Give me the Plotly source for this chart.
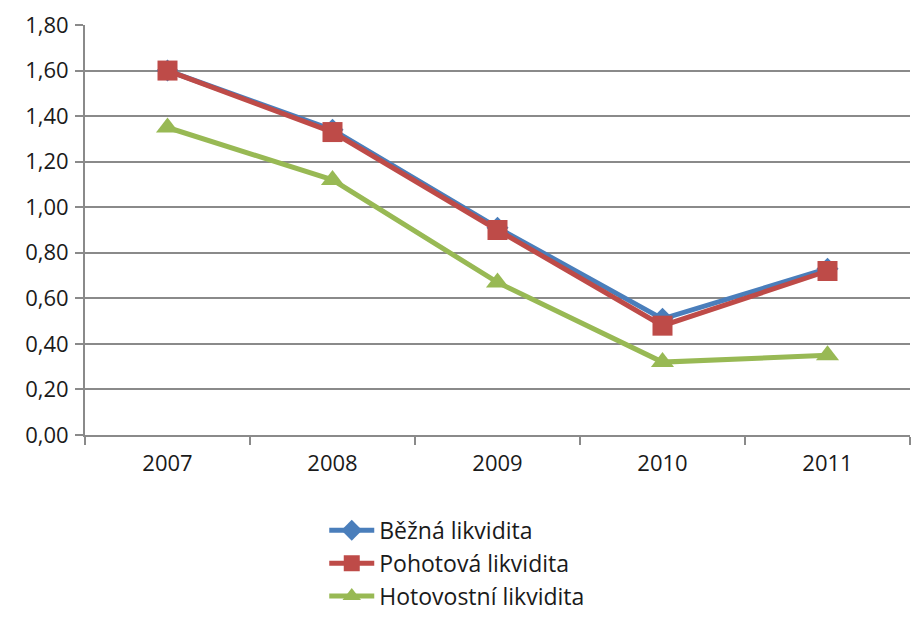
import plotly.graph_objects as go

years = ["2007", "2008", "2009", "2010", "2011"]
bezna = [1.60, 1.34, 0.91, 0.51, 0.73]
pohotova = [1.60, 1.33, 0.90, 0.48, 0.72]
hotovostni = [1.35, 1.12, 0.67, 0.32, 0.35]

fig = go.Figure()
fig.add_trace(go.Scatter(x=years, y=bezna, name="Běžná likvidita", mode="lines+markers",
                         line=dict(color="#4A7EBB", width=5),
                         marker=dict(symbol="diamond", size=17, color="#4A7EBB")))
fig.add_trace(go.Scatter(x=years, y=pohotova, name="Pohotová likvidita", mode="lines+markers",
                         line=dict(color="#BE4B48", width=5),
                         marker=dict(symbol="square", size=20, color="#BE4B48")))
fig.add_trace(go.Scatter(x=years, y=hotovostni, name="Hotovostní likvidita", mode="lines+markers",
                         line=dict(color="#98B954", width=5),
                         marker=dict(symbol="triangle-up", size=20, color="#98B954")))

fig.update_layout(
    width=912, height=620,
    margin=dict(l=85, r=2, t=25, b=185),
    paper_bgcolor="white", plot_bgcolor="white",
    separators=",.",
    font=dict(family="Open Sans", size=22, color="#1a1a1a"),
    showlegend=True,
    legend=dict(x=0.29, y=-0.18, xanchor="left", yanchor="top",
                orientation="v", font=dict(size=23), tracegroupgap=0,
                itemwidth=45),
    xaxis=dict(type="category", showgrid=False, showline=True, linecolor="#8A8A8A",
               linewidth=2, ticks="outside", tickson="boundaries", ticklen=8,
               tickcolor="#8A8A8A", tickwidth=2, range=[-0.5, 4.5],
               ticklabelstandoff=8),
    yaxis=dict(range=[0, 1.8], dtick=0.2, tickformat=".2f", showgrid=True,
               gridcolor="#8A8A8A", gridwidth=2, showline=True, linecolor="#8A8A8A",
               linewidth=2, ticks="outside", ticklen=8, tickcolor="#8A8A8A",
               tickwidth=2, zeroline=False, ticklabelstandoff=2),
)

fig.write_html("out.html")
